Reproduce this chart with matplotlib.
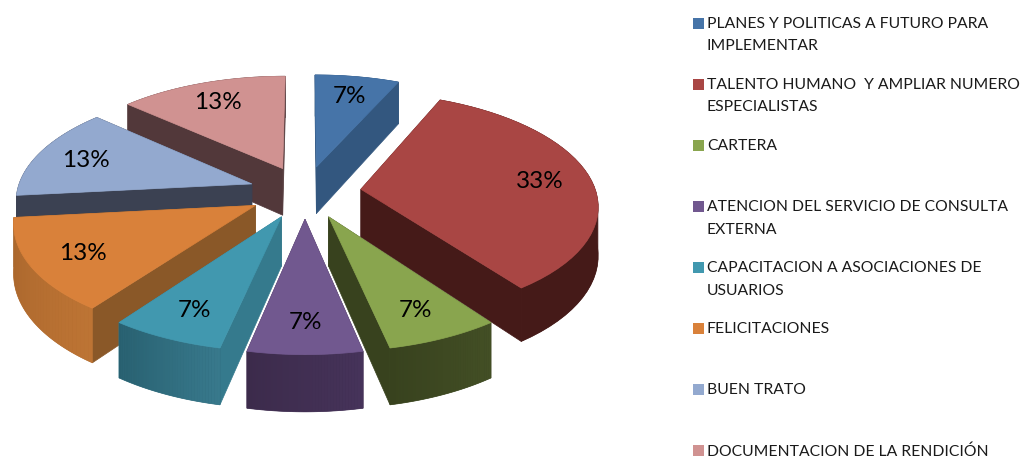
import numpy as np
import matplotlib
matplotlib.use('Agg')
import matplotlib.pyplot as plt
from matplotlib.colors import to_rgb

plt.rcParams['font.family'] = ['Lato', 'DejaVu Sans']

# chart values, clockwise from the top
labels = [
    ['PLANES Y POLITICAS A FUTURO PARA', 'IMPLEMENTAR'],
    ['TALENTO HUMANO  Y AMPLIAR NUMERO', 'ESPECIALISTAS'],
    ['CARTERA'],
    ['ATENCION DEL SERVICIO DE CONSULTA', 'EXTERNA'],
    ['CAPACITACION A ASOCIACIONES DE', 'USUARIOS'],
    ['FELICITACIONES'],
    ['BUEN TRATO'],
    ['DOCUMENTACION DE LA RENDICIÓN'],
]
# 7%, 33% and 13% fit counts out of 15
values = [1, 5, 1, 1, 1, 2, 2, 2]

top_colors = ['#4674a8', '#a94644', '#89a54e', '#71588f', '#4198af', '#d9813a', '#93a9cf', '#d09291']
cut_colors = ['#33577f', '#451a18', '#38421e', '#43304f', '#357a8d', '#8a5828', '#3b4152', '#52383a']
wall_left = ['#33577f', '#451a18', '#38421e', '#3c2b4b', '#286070', '#a8652c', '#3b4152', '#52383a']
wall_right = ['#33577f', '#451a18', '#434f25', '#46335a', '#38798c', '#bd7434', '#3b4152', '#52383a']

# pie geometry, in pixels of the figure
CX, CY = 305, 192
RX, RY = 235, 110
PERSP = 0.13
EXPLODE = 0.24
DEPTH = 48
LABEL_R = 0.78


def project(u, v, low=False):
    s = 1 / (1 - PERSP * v)
    x = CX + RX * u * s
    y = CY + RY * v * s
    if low:
        y = y + DEPTH * s
    return x, y


def rim(a, mid, r=1.0):
    # a point of the slice with mid angle mid, angles clockwise from the top
    u = r * np.sin(a) + EXPLODE * np.sin(mid)
    v = -r * np.cos(a) + EXPLODE * -np.cos(mid)
    return u, v


def mix(c1, c2, t):
    c1 = np.array(to_rgb(c1))
    c2 = np.array(to_rgb(c2))
    return tuple(c1 + (c2 - c1) * t)


def draw_slice(ax, a0, a1, i):
    mid = (a0 + a1) / 2
    angles = np.linspace(a0, a1, 40)
    au, av = rim(0, mid, 0)

    # the two cut faces
    for a in (a0, a1):
        u, v = rim(a, mid)
        pts = [project(au, av), project(u, v), project(u, v, True), project(au, av, True)]
        ax.fill(*zip(*pts), color=cut_colors[i], lw=0.5, zorder=i_order[i])

    # whole outer wall first, so no seams show between the strips
    upper = [project(*rim(a, mid)) for a in angles]
    lower = [project(*rim(a, mid), True) for a in angles[::-1]]
    ax.fill(*zip(*(upper + lower)), color=mix(wall_right[i], wall_left[i], 0.5), lw=0.5, zorder=i_order[i])

    # then the strips for the gradient
    for k in range(len(angles) - 1):
        u0, v0 = rim(angles[k], mid)
        u1, v1 = rim(angles[k + 1], mid)
        t = k / (len(angles) - 2)
        col = mix(wall_right[i], wall_left[i], t)
        pts = [project(u0, v0), project(u1, v1), project(u1, v1, True), project(u0, v0, True)]
        ax.fill(*zip(*pts), color=col, lw=0, zorder=i_order[i])

    # top face
    pts = [project(au, av)] + upper
    ax.fill(*zip(*pts), color=top_colors[i], lw=0.5, zorder=i_order[i])


fig = plt.figure(figsize=(10.22, 4.58), dpi=100)
ax = fig.add_axes([0, 0, 1, 1])
ax.set_xlim(0, 1022)
ax.set_ylim(458, 0)
ax.axis('off')

edges = np.cumsum([0] + values) / sum(values) * 2 * np.pi
mids = (edges[:-1] + edges[1:]) / 2

# back slices first, the front ones paint over them
order = np.argsort(-np.cos(mids))
i_order = {}
for n, i in enumerate(order):
    i_order[i] = 2 + n

for i in range(len(values)):
    draw_slice(ax, edges[i], edges[i + 1], i)

for i in range(len(values)):
    x, y = project(*rim(mids[i], mids[i], LABEL_R))
    pct = round(100 * values[i] / sum(values))
    ax.text(x, y + 1.5, str(pct) + '%', fontsize=17.5, color='black',
            ha='center', va='center', zorder=20)

# legend
for i in range(len(labels)):
    y = 23 + i * 61.1
    ax.fill([693, 704, 704, 693], [y - 5.5, y - 5.5, y + 5.5, y + 5.5], color=top_colors[i], lw=0)
    for j, line in enumerate(labels[i]):
        ax.text(707, y + 0.8 + j * 22.5, line, fontsize=11.35, color='#1a1a1a', ha='left', va='center')

plt.savefig('out.png', dpi=100)
